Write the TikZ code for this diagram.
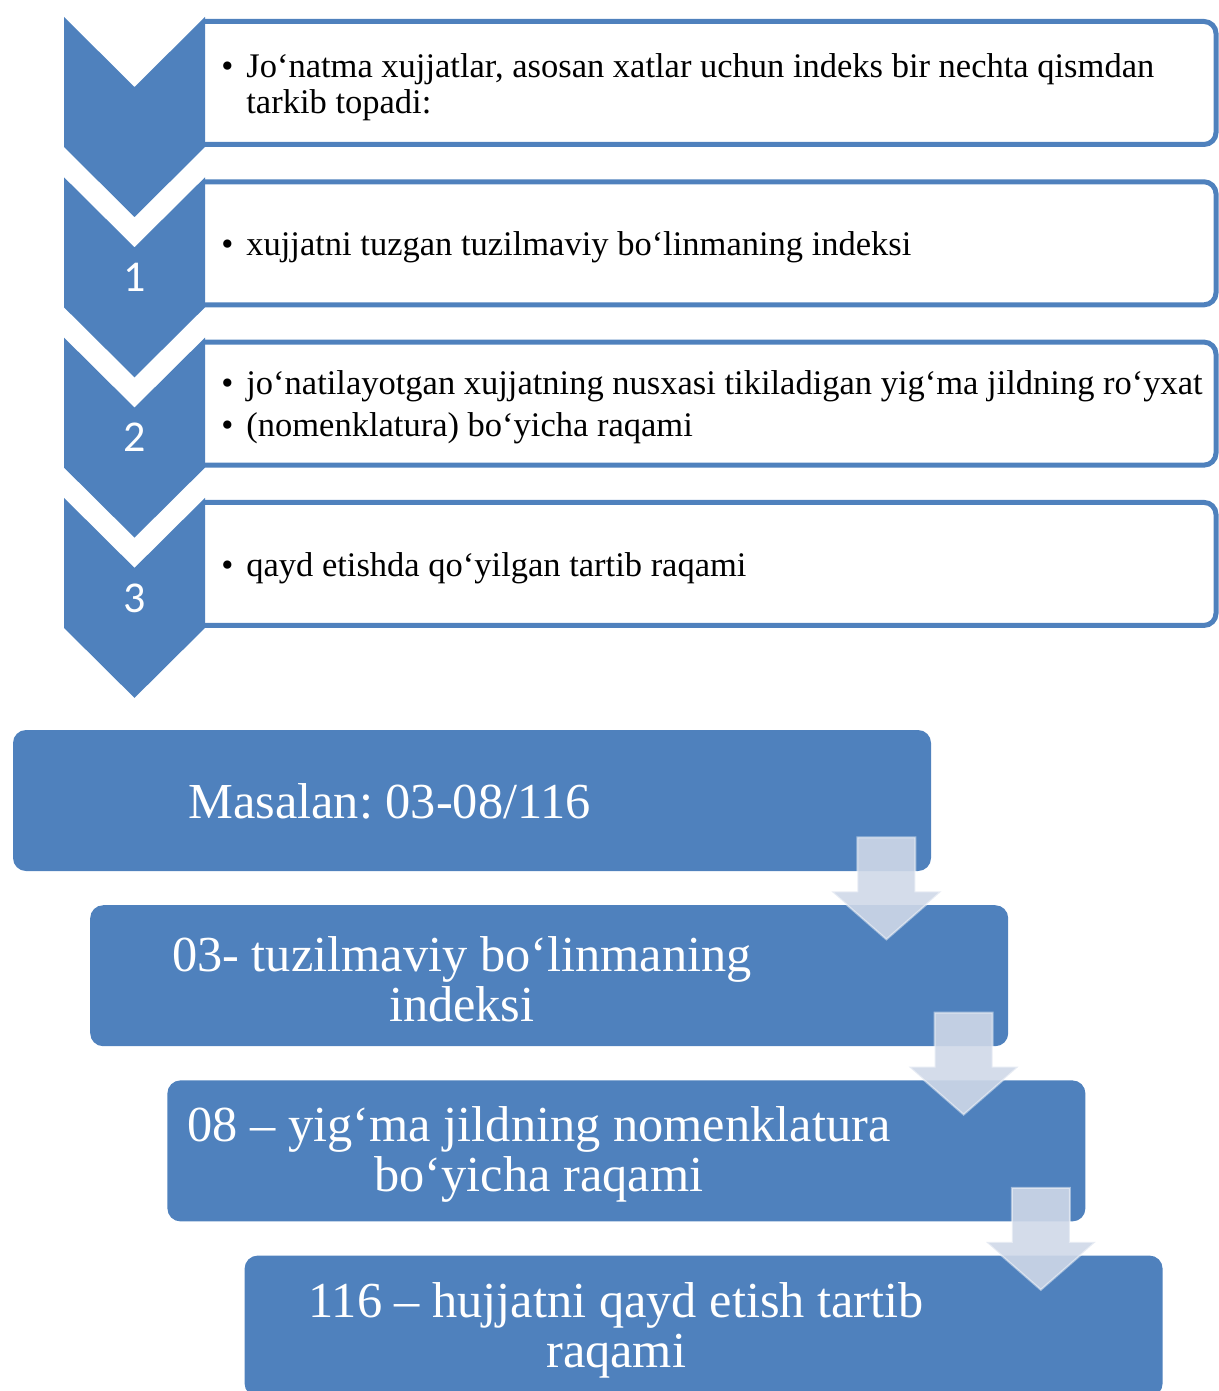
\documentclass[tikz,border=0pt]{standalone}
\usepackage{fontspec}
\setmainfont{Liberation Serif}
\newfontfamily\numfont{Carlito}
\usetikzlibrary{calc}
\definecolor{smblue}{RGB}{79,129,189}
\definecolor{smpale}{RGB}{207,216,232}
\frenchspacing

\begin{document}
\begin{tikzpicture}[x=0.5pt, y=-0.5pt]
  \tikzstyle{chev}=[fill=smblue]
  \tikzstyle{frm}=[draw=smblue, line width=2.5pt, rounded corners=6pt]
  \tikzstyle{itm}=[anchor=west, inner sep=0pt, align=left,
                   font=\fontsize{17.25}{18}\selectfont]
  \tikzstyle{num}=[text=white, font=\numfont\fontsize{22}{22}\selectfont]
  \tikzstyle{exb}=[fill=smblue, rounded corners=6.5pt, minimum width=459pt,
                   minimum height=70.5pt, inner sep=0pt]
  \tikzstyle{ext}=[text=white, align=center, font=\fontsize{25.2}{25}\selectfont]
  \tikzstyle{dwn}=[fill=smpale, fill opacity=0.9, draw=white, draw opacity=0.45,
                   line width=1pt]

  \useasboundingbox (0,0) rectangle (1219,1391);

  % ================= chevrons and list frames =============
  \foreach \i in {0,...,3} {
    \pgfmathsetmacro{\t}{17+160.3*\i}
    \draw[frm] (205,\t+4.5) -- (1216,\t+4.5) -- (1216,\t+127.5) -- (205,\t+127.5);
    \fill[chev] (64,\t) -- (134.5,\t+70) -- (205,\t) -- (205,\t+130)
                -- (134.5,\t+200) -- (64,\t+130) -- cycle;
  }
  \node[num] (n1) at (134.5,277.3) {1};
  \node[num] (n2) at (134.5,437.6) {2};
  \node[num] (n3) at (134.5,597.9) {3};

  % list texts
  \node[itm] (t0) at (221,87) {\makebox[12.5pt][l]{•}Jo‘natma xujjatlar, asosan xatlar uchun indeks bir nechta qismdan\\
                               \hspace*{12.5pt}tarkib topadi:};
  \node[itm] (t1) at (221,247.3) {\makebox[12.5pt][l]{•}xujjatni tuzgan tuzilmaviy bo‘linmaning indeksi};
  \node[itm] (t2) at (221,407.6) {\makebox[12.5pt][l]{•}jo‘natilayotgan xujjatning nusxasi tikiladigan yig‘ma jildning ro‘yxat\\[3pt]
                                  \makebox[12.5pt][l]{•}(nomenklatura) bo‘yicha raqami};
  \node[itm] (t3) at (221,567.9) {\makebox[12.5pt][l]{•}qayd etishda qo‘yilgan tartib raqami};

  % ================= example: stepped boxes =============
  \node[exb] (ex0) at (472,800.5)    {};
  \node[exb] (ex1) at (549.2,975.7)  {};
  \node[exb] (ex2) at (626.4,1150.9) {};
  \node[exb] (ex3) at (703.6,1326.1) {};
  \node[ext] (x0) at ($(ex0.west)+(377,1)$) {Masalan: 03-08/116};
  \node[ext] (x1) at ($(ex1.west)+(372,4)$) {03- tuzilmaviy bo‘linmaning\\indeksi};
  \node[ext] (x2) at ($(ex2.west)+(372,4)$) {08 – yig‘ma jildning nomenklatura\\bo‘yicha raqami};
  \node[ext] (x3) at ($(ex3.west)+(372,4)$) {116 – hujjatni qayd etish tartib\\raqami};

  % down arrows between boxes
  \foreach \a in {ex0,ex1,ex2}
    \draw[dwn, shift={($(\a.south east)+(-45,-34)$)}]
      (-29,0) -- (29,0) -- (29,54) -- (55,54) -- (0,102) -- (-55,54) -- (-29,54) -- cycle;
\end{tikzpicture}
\end{document}
